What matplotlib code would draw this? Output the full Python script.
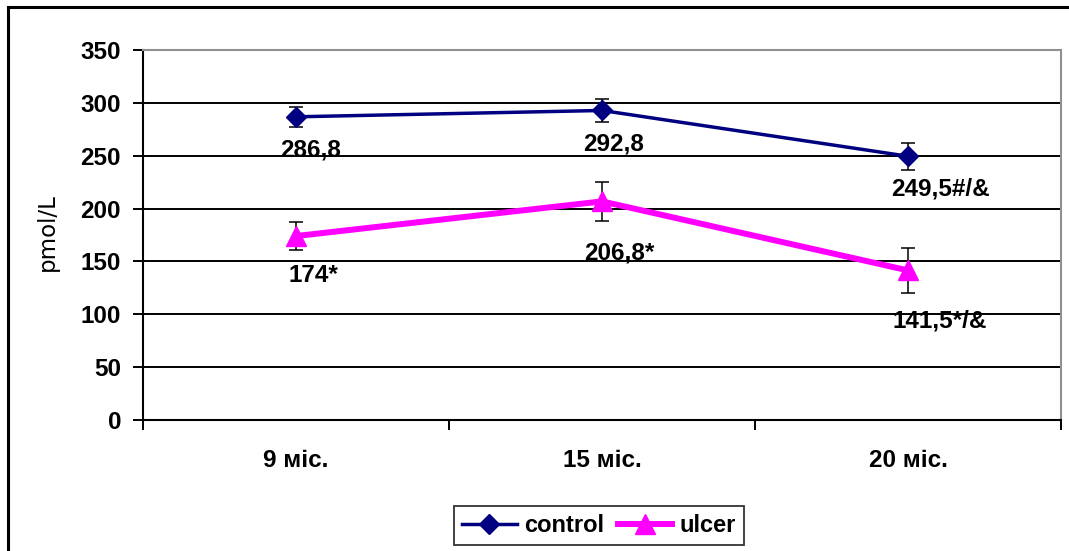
import matplotlib
matplotlib.use('Agg')
import matplotlib.pyplot as plt
from matplotlib.patches import Rectangle

plt.rcParams['font.family'] = ['Liberation Sans', 'DejaVu Sans']

# data
months = ['9 міс.', '15 міс.', '20 міс.']
control = [286.8, 292.8, 249.5]
control_err = [9.4, 10.5, 13.0]
control_labels = ['286,8', '292,8', '249,5#/&']
ulcer = [174.0, 206.8, 141.5]
ulcer_err = [13.0, 18.5, 21.5]
ulcer_labels = ['174*', '206,8*', '141,5*/&']

# label offsets in pixels (left edge, baseline below the point)
control_off = [(-16, -40), (-19, -40), (-17, -39)]
ulcer_off = [(-7, -46), (-18, -58), (-15, -57)]

W, H = 1069, 551
fig = plt.figure(figsize=(W / 100, H / 100), dpi=100)
ax = fig.add_axes([143 / W, 1 - 420 / H, (1061 - 143) / W, (420 - 50) / H])

x = [1, 2, 3]

c = ax.errorbar(x, control, yerr=control_err, color='#000080', lw=2.5,
                marker='D', ms=10.5, ecolor='black', elinewidth=1.1,
                capsize=5, capthick=1.1, label='control', zorder=4)
u = ax.errorbar(x, ulcer, yerr=ulcer_err, color='#FF00FF', lw=4.3,
                marker='^', ms=15, ecolor='black', elinewidth=1.1,
                capsize=5, capthick=1.1, label='ulcer', zorder=3)

for xi, yi, t, off in zip(x, control, control_labels, control_off):
    ax.annotate(t, (xi, yi), xytext=off, textcoords='offset pixels',
                ha='left', va='baseline', fontsize=17.5, fontweight='bold', zorder=6)
for xi, yi, t, off in zip(x, ulcer, ulcer_labels, ulcer_off):
    ax.annotate(t, (xi, yi), xytext=off, textcoords='offset pixels',
                ha='left', va='baseline', fontsize=17.5, fontweight='bold', zorder=6)

ax.set_xlim(0.5, 3.5)
ax.set_ylim(0, 350)
ax.set_yticks(range(0, 351, 50))
ax.yaxis.grid(True, color='black', lw=1.4)
ax.set_axisbelow(True)

ax.set_xticks([0.5, 1.5, 2.5, 3.5])
ax.set_xticklabels([])
ax.set_xticks(x, minor=True)
ax.set_xticklabels(months, minor=True, fontsize=17.5, fontweight='bold')
ax.tick_params(axis='x', which='major', direction='out', length=7, width=1.4)
ax.tick_params(axis='x', which='minor', length=0, pad=21)
ax.tick_params(axis='y', direction='out', length=7.2, width=1.4, pad=8.6,
               labelsize=17.5)
for lab in ax.get_yticklabels():
    lab.set_fontweight('bold')

ax.set_ylabel('pmol/L', family='DejaVu Sans', fontsize=16.5)
ax.yaxis.set_label_coords(-(143 - 59) / (1061 - 143), (420 - 232) / 370)

for s in ['left', 'bottom']:
    ax.spines[s].set_color('black')
    ax.spines[s].set_linewidth(1.5)
for s in ['top', 'right']:
    ax.spines[s].set_color('#909090')
    ax.spines[s].set_linewidth(1.5)

leg = fig.legend([c[0], u[0]], ['control', 'ulcer'], loc='center',
                 bbox_to_anchor=(599 / W, 1 - 525.5 / H), ncol=2,
                 prop={'weight': 'bold', 'size': 17},
                 frameon=True, fancybox=False, edgecolor='black',
                 handlelength=2.3, handletextpad=0.3, columnspacing=0.6,
                 borderpad=0.35, borderaxespad=0)
leg.get_frame().set_linewidth(1.3)

fig.patches.append(Rectangle((7.5 / W, -0.1), (1075 - 7.5) / W, 1.1 - 7.5 / H,
                             transform=fig.transFigure, fill=False,
                             ec='black', lw=2.2))

fig.savefig('out.png', dpi=100)
